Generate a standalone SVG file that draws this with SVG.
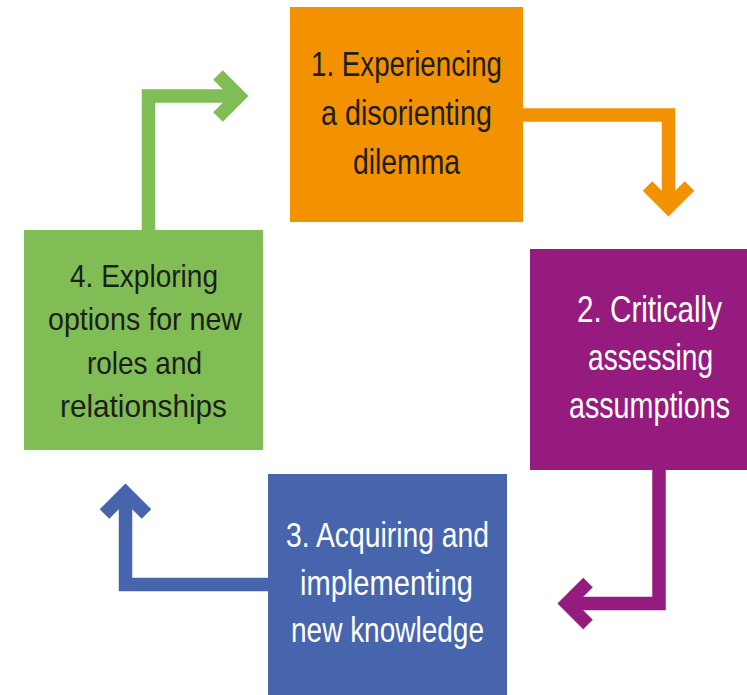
<svg xmlns="http://www.w3.org/2000/svg" width="747" height="695" viewBox="0 0 747 695">
  <style>
    .lbl { font-family: "Liberation Sans", Arial, sans-serif; text-anchor: start; }
    .dark { fill: #1d1d1b; }
    .light { fill: #ffffff; }
    .link { fill: none; stroke-width: 13.5; stroke-linejoin: miter; stroke-linecap: butt; }
  </style>
  <rect width="747" height="695" fill="#ffffff"/>

  <!-- connectors: elbow lines with open chevron heads -->
  <g id="connectors">
    <g stroke="#f39200" class="link">
      <path d="M523,115 H668.5 V207"/>
      <path d="M647.5,186 L668.5,207 L689.5,186"/>
    </g>
    <g stroke="#951b7f" class="link">
      <path d="M659,470 V603.5 H567"/>
      <path d="M588,582.5 L567,603.5 L588,624.5"/>
    </g>
    <g stroke="#4665ad" class="link">
      <path d="M268,584.5 H125.5 V493"/>
      <path d="M104.5,514 L125.5,493 L146.5,514"/>
    </g>
    <g stroke="#80bd55" class="link">
      <path d="M148.5,230 V96 H239"/>
      <path d="M218,75 L239,96 L218,117"/>
    </g>
  </g>

  <!-- labels are set condensed: each line is squeezed horizontally to 78% -->
  <g id="step1">
    <rect x="290" y="7" width="233" height="215" fill="#f39200"/>
    <g class="lbl dark" font-size="36">
      <text transform="translate(311,76) scale(0.78,1)" textLength="244.9" lengthAdjust="spacingAndGlyphs">1. Experiencing</text>
      <text transform="translate(321,125) scale(0.78,1)" textLength="219.2" lengthAdjust="spacingAndGlyphs">a disorienting</text>
      <text transform="translate(353,174) scale(0.78,1)" textLength="137.2" lengthAdjust="spacingAndGlyphs">dilemma</text>
    </g>
  </g>

  <g id="step2">
    <rect x="530" y="249" width="217" height="221" fill="#951b7f"/>
    <g class="lbl light" font-size="37">
      <text transform="translate(577,322) scale(0.78,1)" textLength="185.9" lengthAdjust="spacingAndGlyphs">2. Critically</text>
      <text transform="translate(588,370) scale(0.78,1)" textLength="160.3" lengthAdjust="spacingAndGlyphs">assessing</text>
      <text transform="translate(569,418) scale(0.78,1)" textLength="206.4" lengthAdjust="spacingAndGlyphs">assumptions</text>
    </g>
  </g>

  <g id="step3">
    <rect x="268" y="474" width="239" height="221" fill="#4665ad"/>
    <g class="lbl light" font-size="35">
      <text transform="translate(286,547) scale(0.78,1)" textLength="260.3" lengthAdjust="spacingAndGlyphs">3. Acquiring and</text>
      <text transform="translate(300,595) scale(0.78,1)" textLength="221.8" lengthAdjust="spacingAndGlyphs">implementing</text>
      <text transform="translate(291,642) scale(0.78,1)" textLength="247.4" lengthAdjust="spacingAndGlyphs">new knowledge</text>
    </g>
  </g>

  <g id="step4">
    <rect x="24" y="230" width="239" height="220" fill="#80bd55"/>
    <g class="lbl dark" font-size="32">
      <text transform="translate(70,287) scale(0.78,1)" textLength="189.7" lengthAdjust="spacingAndGlyphs">4. Exploring</text>
      <text transform="translate(48,330) scale(0.78,1)" textLength="248.7" lengthAdjust="spacingAndGlyphs">options for new</text>
      <text transform="translate(87,374) scale(0.78,1)" textLength="147.4" lengthAdjust="spacingAndGlyphs">roles and</text>
      <text transform="translate(60,417) scale(0.78,1)" textLength="214.1" lengthAdjust="spacingAndGlyphs">relationships</text>
    </g>
  </g>
</svg>
